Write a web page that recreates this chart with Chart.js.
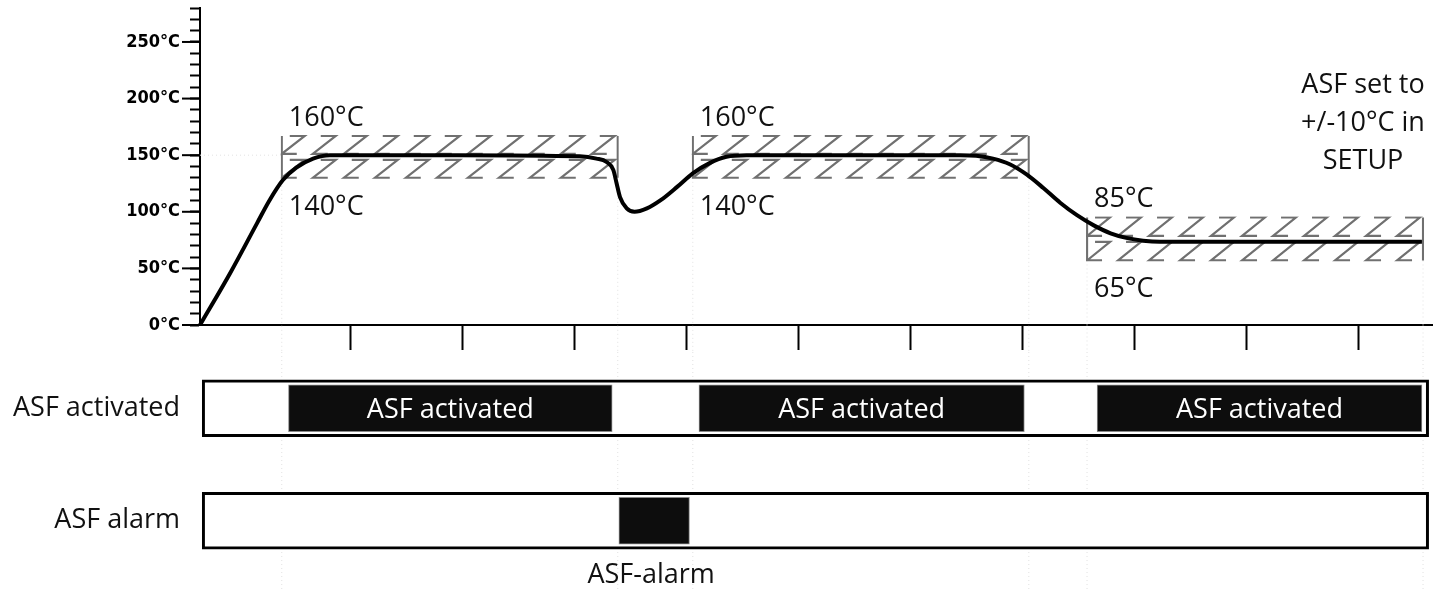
<!DOCTYPE html>
<html>
<head>
<meta charset="utf-8">
<script src="https://cdn.jsdelivr.net/npm/chart.js@4.4.1/dist/chart.umd.min.js"></script>
<style>
html, body { margin: 0; padding: 0; background: #fff; }
#wrap { position: relative; width: 1455px; height: 590px; }
#tempBox { position: absolute; left: 0; top: 0; width: 1455px; height: 352px; }
#asfBox { position: absolute; left: 0; top: 352px; width: 1455px; height: 238px; }
</style>
</head>
<body>
<div id="wrap">
  <div id="tempBox"><canvas id="tempChart"></canvas></div>
  <div id="asfBox"><canvas id="asfChart"></canvas></div>
</div>
<script>
// temperature curve (time in tick units, temperature in °C)
const tempX = [0, 0.27, 0.51, 0.62, 0.74, 0.86, 1.01, 1.16, 2.3, 3.39, 3.54, 3.63, 3.69, 3.72, 3.75, 3.81, 3.88, 3.99, 4.11, 4.26,
               4.40, 4.55, 4.70, 4.88, 6.0, 6.79, 6.93, 7.08, 7.23, 7.38, 7.53, 7.68, 7.83, 7.98, 8.13, 8.27, 8.42, 8.57, 9.7, 10.91];
const tempY = [0, 46, 90, 110, 128, 139, 147, 150, 150, 149, 147, 144, 137, 125, 113, 103, 100, 103, 110, 122,
               134, 143, 148.6, 150, 150, 150, 149.5, 147, 142, 133, 121, 108, 97, 88, 81, 77, 74.5, 73.5, 73.5, 73.5];

// x axis tick marks (no labels), y axis labelled ticks
const timeTicks = [1.34, 2.34, 3.34, 4.34, 5.34, 6.34, 7.34, 8.34, 9.34, 10.34];
const tempLabelTicks = [0, 50, 100, 150, 200, 250];

// ASF tolerance bands
const bandStart = [0.73, 4.40, 7.92];
const bandEnd = [3.73, 7.40, 10.92];
const bandHigh = [167, 167, 95];
const bandLow = [130, 130, 57];
const bandHighText = ['160°C', '160°C', '85°C'];
const bandLowText = ['140°C', '140°C', '65°C'];
const noteLines = ['ASF set to', '+/-10°C in', 'SETUP'];

// status rows
const rowLabels = ['ASF activated', 'ASF alarm'];
const frameSpan = [0.02, 10.97];
const activeStart = [0.79, 4.455, 8.01];
const activeEnd = [3.68, 7.36, 10.91];
const alarmStart = [3.74];
const alarmEnd = [4.37];
const barText = 'ASF activated';
const alarmCaption = 'ASF-alarm';

const FONT = '"Open Sans", "Noto Sans", sans-serif';
const AXIS_FONT = '"Liberation Sans Narrow", "DejaVu Sans Condensed", "DejaVu Sans", sans-serif';

// scales ask for room for half a label at the ends, we place things ourselves
function noEndPadding(s) {
    s.paddingTop = 0;
    s.paddingBottom = 0;
}

// faint dotted guides at the band edges, running down through both charts
function drawGuides(chart, fromTop) {
    const ctx = chart.ctx, xs = chart.scales.x, area = chart.chartArea;
    ctx.save();
    ctx.strokeStyle = '#e2e2e2';
    ctx.lineWidth = 1;
    ctx.setLineDash([1, 3]);
    bandStart.concat(bandEnd).forEach((v, k) => {
        const px = xs.getPixelForValue(v);
        let y0 = 0;
        if (!fromTop) {
            const i = k % bandStart.length;
            y0 = chart.scales.y.getPixelForValue(bandLow[i]);
        }
        ctx.beginPath();
        ctx.moveTo(px, y0);
        ctx.lineTo(px, chart.height);
        ctx.stroke();
    });
    if (!fromTop) {
        const py = chart.scales.y.getPixelForValue(150);
        ctx.beginPath();
        ctx.moveTo(area.left, py);
        ctx.lineTo(xs.getPixelForValue(bandStart[0]), py);
        ctx.stroke();
    }
    ctx.restore();
}

/* hatched boxes + 160/140 labels */
const bandPlugin = {
    id: 'bands',
    beforeDatasetsDraw(chart) {
        const ctx = chart.ctx, xs = chart.scales.x, ys = chart.scales.y;
        drawGuides(chart, false);
        ctx.save();
        for (let i = 0; i < bandStart.length; i++) {
            const l = xs.getPixelForValue(bandStart[i]);
            const r = xs.getPixelForValue(bandEnd[i]);
            const t = ys.getPixelForValue(bandHigh[i]);
            const b = ys.getPixelForValue(bandLow[i]);
            const mid = (t + b) / 2, gap = 6;
            const rows = [[t, mid - gap / 2], [mid + gap / 2, b]];
            ctx.save();
            ctx.fillStyle = '#fff';
            ctx.fillRect(l, t, r - l, b - t);
            ctx.beginPath();
            ctx.rect(l - 1, t - 1, r - l + 2, b - t + 2);
            ctx.clip();
            ctx.strokeStyle = '#707070';
            ctx.lineWidth = 2.2;
            const sp = 31, dl = 15;
            rows.forEach(([rt, rb]) => {
                const dx = 23;
                ctx.beginPath();
                for (let px = l - sp; px < r + sp; px += sp) {
                    ctx.moveTo(px + dx - dl, rt);
                    ctx.lineTo(px + dx, rt);
                    ctx.lineTo(px, rb);
                    ctx.lineTo(px + dl, rb);
                }
                ctx.stroke();
            });
            ctx.beginPath();
            ctx.moveTo(l, t); ctx.lineTo(l, b);
            ctx.moveTo(r, t); ctx.lineTo(r, b);
            ctx.stroke();
            ctx.restore();

            ctx.fillStyle = '#111';
            ctx.font = '27px ' + FONT;
            ctx.textAlign = 'left';
            ctx.textBaseline = 'alphabetic';
            ctx.fillText(bandHighText[i], l + 7, t - 10);
            ctx.fillText(bandLowText[i], l + 7, b + 37);
        }
        ctx.restore();
    }
};

/* long ticks at the labelled temperatures, note on the right */
const extrasPlugin = {
    id: 'extras',
    afterDraw(chart) {
        const ctx = chart.ctx, ys = chart.scales.y, area = chart.chartArea;
        ctx.save();
        ctx.strokeStyle = '#000';
        ctx.lineWidth = 2;
        tempLabelTicks.forEach(v => {
            const py = ys.getPixelForValue(v);
            ctx.beginPath();
            ctx.moveTo(area.left - 18, py);
            ctx.lineTo(area.left, py);
            ctx.stroke();
        });
        ctx.fillStyle = '#111';
        ctx.font = '27px ' + FONT;
        ctx.textAlign = 'center';
        ctx.textBaseline = 'alphabetic';
        noteLines.forEach((s, k) => ctx.fillText(s, 1363, 93 + k * 38));
        ctx.restore();
    }
};

new Chart(document.getElementById('tempChart'), {
    type: 'line',
    data: {
        datasets: [{
            data: tempX.map((x, i) => ({ x: x, y: tempY[i] })),
            borderColor: '#000',
            borderWidth: 4,
            pointRadius: 0,
            fill: false,
            cubicInterpolationMode: 'monotone',
            clip: false
        }]
    },
    options: {
        responsive: true,
        maintainAspectRatio: false,
        animation: false,
        layout: { padding: { left: 0, right: 23, top: 8, bottom: 0 } },
        plugins: { legend: { display: false }, tooltip: { enabled: false } },
        scales: {
            x: {
                type: 'linear', min: 0, max: 11,
                afterBuildTicks: s => { s.ticks = timeTicks.map(v => ({ value: v })); },
                afterFit: s => { s.height = 27; s.paddingLeft = 0; s.paddingRight = 0; },
                grid: { drawOnChartArea: false, tickLength: 25, tickWidth: 2, tickColor: '#000' },
                border: { color: '#000', width: 2 },
                ticks: { callback: () => '' }
            },
            y: {
                type: 'linear', min: 0, max: 280,
                afterFit: s => { s.width = 200; noEndPadding(s); },
                grid: { drawOnChartArea: false, tickLength: 10, tickWidth: 2, tickColor: '#000' },
                border: { color: '#000', width: 2 },
                ticks: {
                    stepSize: 10, autoSkip: false, padding: 10, color: '#000',
                    font: { family: AXIS_FONT, size: 18, weight: 'bold' },
                    callback: v => tempLabelTicks.includes(v) ? v + '°C' : ''
                }
            }
        }
    },
    plugins: [bandPlugin, extrasPlugin]
});

/* white text inside activation bars, caption under the alarm */
const barTextPlugin = {
    id: 'barText',
    beforeDatasetsDraw(chart) {
        drawGuides(chart, true);
    },
    afterDatasetsDraw(chart) {
        const ctx = chart.ctx;
        const meta = chart.getDatasetMeta(0);
        ctx.save();
        ctx.font = '27px ' + FONT;
        ctx.textAlign = 'center';
        ctx.textBaseline = 'alphabetic';
        meta.data.forEach((el, i) => {
            const cx = (el.x + el.base) / 2;
            if (i < activeStart.length) {
                ctx.fillStyle = '#fff';
                ctx.fillText(barText, cx, el.y + 10);
            } else {
                ctx.fillStyle = '#111';
                ctx.fillText(alarmCaption, cx - 3, el.y + 62);
            }
        });
        ctx.restore();
    }
};

const onData = activeStart.map((s, i) => ({ x: [s, activeEnd[i]], y: rowLabels[0] }))
    .concat(alarmStart.map((s, i) => ({ x: [s, alarmEnd[i]], y: rowLabels[1] })));

new Chart(document.getElementById('asfChart'), {
    type: 'bar',
    data: {
        labels: rowLabels,
        datasets: [{
            label: 'on',
            data: onData,
            backgroundColor: '#0d0d0d',
            borderColor: '#8a8a8a',
            borderWidth: 1,
            borderSkipped: false,
            barThickness: 47,
            grouped: false,
            order: 1
        }, {
            label: 'frame',
            data: rowLabels.map(r => ({ x: frameSpan, y: r })),
            backgroundColor: '#fff',
            borderColor: '#000',
            borderWidth: 3,
            borderSkipped: false,
            barThickness: 57,
            grouped: false,
            order: 2
        }]
    },
    options: {
        indexAxis: 'y',
        responsive: true,
        maintainAspectRatio: false,
        animation: false,
        layout: { padding: { left: 0, right: 23, top: 0, bottom: 13 } },
        plugins: { legend: { display: false }, tooltip: { enabled: false } },
        scales: {
            x: { type: 'linear', min: 0, max: 11, display: false },
            y: {
                type: 'category', offset: true,
                afterFit: s => { s.width = 200; noEndPadding(s); },
                grid: { display: false, drawTicks: false },
                border: { display: false },
                ticks: { padding: 20, color: '#111', font: { family: FONT, size: 27 } }
            }
        }
    },
    plugins: [barTextPlugin]
});
</script>
</body>
</html>
